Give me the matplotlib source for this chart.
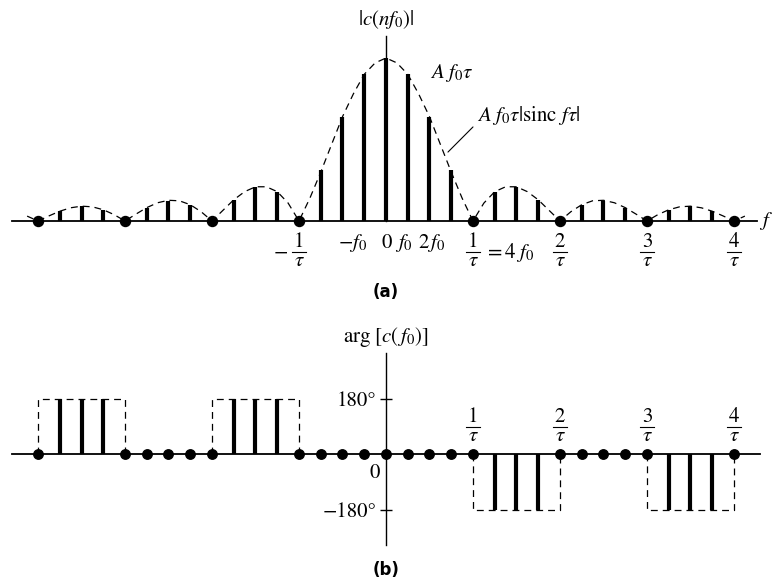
import matplotlib
matplotlib.use("Agg")
import matplotlib.pyplot as plt
import numpy as np

plt.rcParams['font.family'] = 'STIXGeneral'
plt.rcParams['mathtext.fontset'] = 'stix'

# harmonic numbers n (f = n f0), tau = 1/(4 f0)
n = np.arange(-16, 17)

# |c(n f0)| in units of A f0 tau (n = -16 .. 16)
amp = [0.0, 0.06, 0.09, 0.07, 0.0, 0.08, 0.125, 0.10, 0.0, 0.13, 0.21, 0.18, 0.0, 0.31, 0.64, 0.90,
       1.0,
       0.90, 0.64, 0.31, 0.0, 0.18, 0.21, 0.13, 0.0, 0.10, 0.125, 0.08, 0.0, 0.07, 0.09, 0.06, 0.0]

# dashed envelope |sinc f tau|, read at half steps for f >= 0 (mirrored)
env_f = [0, 0.5, 1, 1.5, 2, 2.5, 3, 3.5, 4, 4.5, 5, 5.5, 6, 6.5, 7, 7.5, 8,
         8.5, 9, 9.5, 10, 10.5, 11, 11.5, 12, 12.5, 13, 13.5, 14, 14.5, 15, 15.5, 16, 16.5]
env_a = [1.0, 0.97, 0.90, 0.78, 0.64, 0.47, 0.30, 0.14, 0.0, 0.11, 0.18, 0.21, 0.21, 0.18, 0.13, 0.065, 0.0,
         0.057, 0.10, 0.124, 0.127, 0.112, 0.082, 0.042, 0.0, 0.039, 0.069, 0.087, 0.091, 0.081, 0.060, 0.031, 0.0, 0.03]

# arg[c(n f0)] in degrees (n = -16 .. 16)
phase = [0, 180, 180, 180, 0, 0, 0, 0, 0, 180, 180, 180, 0, 0, 0, 0,
         0,
         0, 0, 0, 0, -180, -180, -180, 0, 0, 0, 0, 0, -180, -180, -180, 0]

# multiples of 1/tau (in units of f0)
zeros = [4, 8, 12, 16]

n = np.array(n)
amp = np.array(amp)
phase = np.array(phase)
env_f = np.array(env_f)
env_a = np.array(env_a)
ef = np.concatenate([-env_f[::-1], env_f[1:]])
ea = np.concatenate([env_a[::-1], env_a[1:]])

px = 21.75  # pixels per f0
fig = plt.figure(figsize=(7.74, 5.80), dpi=100)
xl = (-386 / px, (774 - 386) / px)
dash = (0, (5.5, 4))
fs = 15


def frac(axis, x, y, num, unit):
    # stacked fraction num / tau centred at (x, y); unit = data units per pixel in y
    axis.text(x, y + 9.5 * unit, num, ha='center', va='center', fontsize=fs)
    axis.text(x, y - 9 * unit, r'$\tau$', ha='center', va='center', fontsize=fs)
    axis.plot([x - 0.3, x + 0.3], [y, y], color='black', lw=0.8, clip_on=False)


# ---- (a) amplitude spectrum
ua = 1 / 163
ax = fig.add_axes([0, 0.5, 1, 0.5])
ax.set_xlim(*xl)
ax.set_ylim(-(290 - 221) * ua, 221 * ua)
ax.patch.set_visible(False)
for s in ['top', 'right']:
    ax.spines[s].set_visible(False)
ax.spines['bottom'].set_position(('data', 0))
ax.spines['left'].set_position(('data', 0))
ax.spines['bottom'].set_bounds(-17.2, 17.05)
ax.spines['left'].set_bounds(0, (221 - 36) * ua)
ax.spines['bottom'].set_linewidth(1.3)
ax.spines['left'].set_linewidth(1.0)
ax.set_xticks([])
ax.set_yticks([])

ax.plot(ef, ea, color='black', lw=0.9, linestyle=dash)
nz = amp > 0
ax.vlines(n[nz], 0, amp[nz], color='black', lw=3.0)
ax.plot(n[~nz], amp[~nz], 'o', color='black', ms=7.2, clip_on=False)

ax.text(0, 1.239, r'$|c(nf_0)|$', ha='center', va='center', fontsize=fs)
ax.text(2.02, 0.908, r'$A\ f_0\tau$', ha='left', va='center', fontsize=fs)
ax.text(4.18, 0.65, r'$A\ f_0\tau|\mathrm{sinc}\ f\tau|$', ha='left', va='center', fontsize=fs)
ax.annotate('', xy=(2.85, 0.423), xytext=(4.0, 0.577),
            arrowprops=dict(arrowstyle='-', color='black', lw=0.8, shrinkA=0, shrinkB=0))
ax.text(17.15, 0, r'$f$', ha='left', va='center', fontsize=fs)

ylab = -(243 - 221) * ua
ax.text(-1.56, ylab, r'$-f_0$', ha='center', va='center', fontsize=fs)
ax.text(0.05, ylab, r'$0$', ha='center', va='center', fontsize=fs)
ax.text(0.83, ylab, r'$f_0$', ha='center', va='center', fontsize=fs)
ax.text(2.1, ylab, r'$2\,f_0$', ha='center', va='center', fontsize=fs)

yfr = -(252 - 221) * ua
for k, z in enumerate(zeros):
    frac(ax, z, yfr, str(k + 1), ua)
frac(ax, -4, yfr, '1', ua)
ax.text(-4.87, yfr, r'$-$', ha='center', va='center', fontsize=fs)
ax.text(4.5, yfr, r'$=4\ f_0$', ha='left', va='center', fontsize=fs)

# ---- (b) phase spectrum
deg = 180 / 55.5
bx = fig.add_axes([0, 0, 1, 0.5])
bx.set_xlim(*xl)
bx.set_ylim(-(580 - 454) * deg, (454 - 290) * deg)
bx.patch.set_visible(False)
for s in ['top', 'right']:
    bx.spines[s].set_visible(False)
bx.spines['bottom'].set_position(('data', 0))
bx.spines['left'].set_position(('data', 0))
bx.spines['bottom'].set_bounds(-17.2, 17.2)
bx.spines['left'].set_bounds(-(545 - 454) * deg, (454 - 353) * deg)
bx.spines['bottom'].set_linewidth(1.3)
bx.spines['left'].set_linewidth(1.0)
bx.set_xticks([])
bx.set_yticks([-180, 180])
bx.set_yticklabels(['\u2212180°', '180°'], fontsize=fs)
bx.tick_params(axis='y', direction='inout', length=8, width=1.0, pad=3)

# dashed step outline around each lobe with nonzero phase
bounds = [-16] + [-z for z in zeros[::-1][1:]] + [0] + zeros
for a, b in zip(bounds[:-1], bounds[1:]):
    inside = phase[(n > a) & (n < b)]
    if len(inside) and inside[0] != 0:
        v = inside[0]
        bx.plot([a, a, b, b], [0, v, v, 0], color='black', lw=0.9, linestyle=dash)

pz = phase != 0
bx.vlines(n[pz], 0, phase[pz], color='black', lw=3.0)
bx.plot(n[~pz], phase[~pz], 'o', color='black', ms=6.8, clip_on=False)

bx.text(0, (454 - 337) * deg, r'$\mathrm{arg}\ [c(\,f_0)]$', ha='center', va='center', fontsize=fs)
bx.text(-0.51, -(473 - 454) * deg, '0', ha='center', va='center', fontsize=fs)
for k, z in enumerate(zeros):
    frac(bx, z, (454 - 427) * deg, str(k + 1), deg)

fig.text(386 / 774, 1 - 292 / 580, '(a)', ha='center', va='center', fontsize=12,
         family='DejaVu Sans', weight='bold')
fig.text(386 / 774, 1 - 570 / 580, '(b)', ha='center', va='center', fontsize=12,
         family='DejaVu Sans', weight='bold')

fig.savefig('out.png', dpi=100)
